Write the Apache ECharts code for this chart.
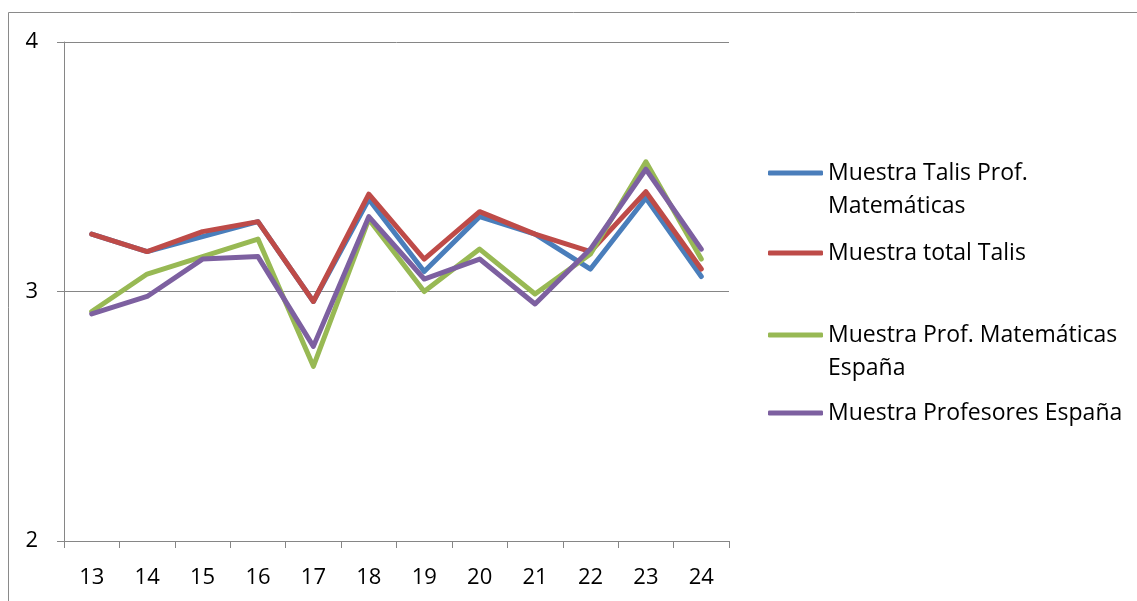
<!DOCTYPE html>
<html><head><meta charset="utf-8">
<script src="https://cdn.jsdelivr.net/npm/echarts@6/dist/echarts.min.js"></script>
<style>html,body{margin:0;padding:0;background:#fff}#c{width:1137px;height:601px}</style>
</head><body><div id="c"></div>
<script>
const categories = ['13','14','15','16','17','18','19','20','21','22','23','24'];
const seriesNames = ['Muestra Talis Prof. Matemáticas','Muestra total Talis','Muestra Prof. Matemáticas España','Muestra Profesores España'];
const legendLine1 = ['Muestra Talis Prof.','Muestra total Talis','Muestra Prof. Matemáticas','Muestra Profesores España'];
const legendLine2 = ['Matemáticas','','España',''];
const talisProfMat = [3.23, 3.16, 3.22, 3.28, 2.96, 3.37, 3.08, 3.30, 3.23, 3.09, 3.375, 3.06];
const totalTalis   = [3.23, 3.16, 3.24, 3.28, 2.96, 3.39, 3.13, 3.32, 3.23, 3.16, 3.40, 3.09];
const profMatEsp   = [2.92, 3.07, 3.14, 3.21, 2.70, 3.29, 3.00, 3.17, 2.99, 3.15, 3.52, 3.13];
const profEsp      = [2.91, 2.98, 3.13, 3.14, 2.78, 3.30, 3.05, 3.13, 2.95, 3.17, 3.49, 3.17];
const yTicks = [2, 3, 4];

const colors = ['#4A7EBB','#BE4B48','#98B954','#7D60A0'];
const values = [talisProfMat, totalTalis, profMatEsp, profEsp];
const FONT = '"Open Sans", sans-serif';
const FS = 23;
const AXFS = 22;
const legendCenters = [173, 253, 335, 413];

const chart = echarts.init(document.getElementById('c'));
const legends = seriesNames.map((n, i) => ({
  data: [n], left: 768, top: legendCenters[i] - 16, orient: 'vertical',
  icon: 'roundRect', itemWidth: 55, itemHeight: 5, padding: 0,
  selectedMode: false,
  formatter: () => legendLine1[i],
  textStyle: { fontFamily: FONT, fontSize: FS, color: '#000', lineHeight: 32 }
}));
const graphics = [{
  type: 'rect', shape: { x: 8.5, y: 12.5, width: 1200, height: 700 },
  style: { fill: 'none', stroke: '#8a8a8a', lineWidth: 1 }, silent: true, z: -1
}];
legendLine2.forEach((t, i) => {
  if (!t) return;
  graphics.push({ type: 'text', left: 828, top: legendCenters[i] + 32 - 15,
    style: { text: t, fontFamily: FONT, fontSize: FS, fill: '#000', lineHeight: 32 } });
});

chart.setOption({
  animation: false,
  color: colors,
  grid: { left: 64, right: 408, top: 42, bottom: 60, containLabel: false },
  legend: legends,
  graphic: graphics,
  xAxis: {
    type: 'category', data: categories, boundaryGap: true,
    axisLine: { lineStyle: { color: '#868686', width: 1 } },
    axisTick: { show: true, length: 7, lineStyle: { color: '#868686' } },
    axisLabel: { fontFamily: FONT, fontSize: AXFS, color: '#000', margin: 26 }
  },
  yAxis: {
    type: 'value', min: yTicks[0], max: yTicks[yTicks.length - 1], interval: 1,
    axisLine: { show: true, lineStyle: { color: '#868686', width: 1 } },
    axisTick: { show: true, length: 7, lineStyle: { color: '#868686' } },
    splitLine: { show: true, lineStyle: { color: '#868686', width: 1 } },
    axisLabel: { fontFamily: FONT, fontSize: AXFS, color: '#000', margin: 26 }
  },
  series: seriesNames.map((n, i) => ({
    name: n, type: 'line', data: values[i], symbol: 'none',
    lineStyle: { width: 5, color: colors[i], cap: 'round', join: 'round' },
    itemStyle: { color: colors[i] }
  }))
});
</script></body></html>
